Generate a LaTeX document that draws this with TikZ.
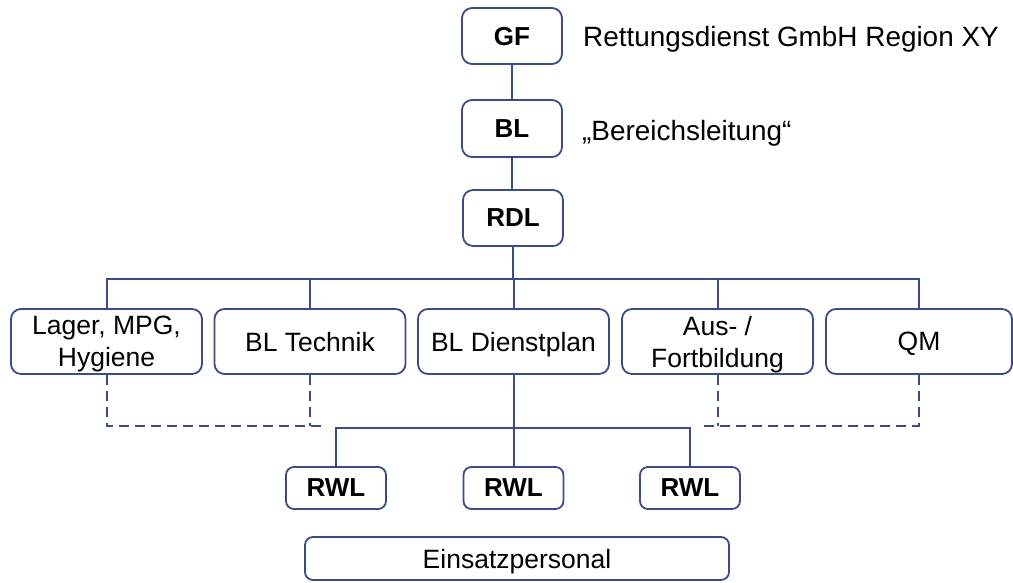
\documentclass[tikz,border=0pt]{standalone}
\usepackage{fontspec}
\setmainfont{Liberation Sans}
\definecolor{ln}{RGB}{60,76,135}
\begin{document}
\begin{tikzpicture}[x=1pt,y=-1pt,
  box/.style={draw=ln,line width=1.8pt,rounded corners=10pt,fill=white,inner sep=0pt,align=center,
    text depth=0pt,font=\fontsize{26.5}{32}\selectfont},
  hbox/.style={box,minimum width=100pt,minimum height=56pt,font=\fontsize{26}{31}\selectfont\bfseries},
  rbox/.style={box,minimum width=191pt,minimum height=65pt},
  wbox/.style={box,minimum width=100pt,minimum height=42pt,rounded corners=8pt,font=\fontsize{26}{31}\selectfont\bfseries},
  conn/.style={draw=ln,line width=2pt},
  dconn/.style={draw=ln,line width=2pt,dash pattern=on 10pt off 6pt},
  lbl/.style={inner sep=0pt,anchor=base west,font=\fontsize{27.9}{32}\selectfont}]
\useasboundingbox (0,0) rectangle (1013,582);
% nodes
\node[hbox] (GF) at (512,36) {GF};
\node[hbox,minimum height=57pt] (BL) at (512,128.5) {BL};
\node[hbox] (RDL) at (513,218) {RDL};
\node[lbl] (t1) at (583,46) {Rettungsdienst GmbH Region XY};
\node[lbl] (t2) at (582,140) {„Bereichsleitung“};
\node[rbox] (L1) at (106.5,341.5) {Lager, MPG,\\Hygiene};
\node[rbox] (L2) at (310,341.5) {BL Technik};
\node[rbox] (L3) at (513.5,341.5) {BL Dienstplan};
\node[rbox] (L4) at (717.5,341.5) {Aus- /\\Fortbildung};
\node[rbox,minimum width=186pt] (L5) at (919,341.5) {QM};
\node[wbox] (W1) at (336,488) {RWL};
\node[wbox] (W2) at (513.5,488) {RWL};
\node[wbox] (W3) at (690,488) {RWL};
\node[box,minimum width=424pt,minimum height=43pt,rounded corners=8pt] (E) at (517,558.5) {Einsatzpersonal};
% helper coordinates
\coordinate (bus) at (513,279);
\coordinate (lb) at (513,428);
\coordinate (dl) at (325,426);
\coordinate (dr) at (700,426);
% connectors
\draw[conn] (GF.south) -- (BL.north);
\draw[conn] (BL.south) -- (BL.south |- RDL.north);
\draw[conn] (RDL.south) -- (RDL.south |- bus);
\draw[conn] (L1.north) -- (L1.north |- bus) -- (L5.north |- bus) -- (L5.north);
\draw[conn] (L2.north) -- (L2.north |- bus);
\draw[conn] (L3.north) -- (L3.north |- bus);
\draw[conn] (L4.north) -- (L4.north |- bus);
\draw[dconn] (L1.south) |- (dl);
\draw[dconn] (L2.south) -- (L2.south |- dl);
\draw[dconn] (L5.south) |- (dr);
\draw[dconn] (L4.south) -- (L4.south |- dr);
\draw[conn] (L3.south) -- (W2.north);
\draw[conn] (W1.north) -- (W1.north |- lb) -- (W3.north |- lb) -- (W3.north);
\end{tikzpicture}
\end{document}
